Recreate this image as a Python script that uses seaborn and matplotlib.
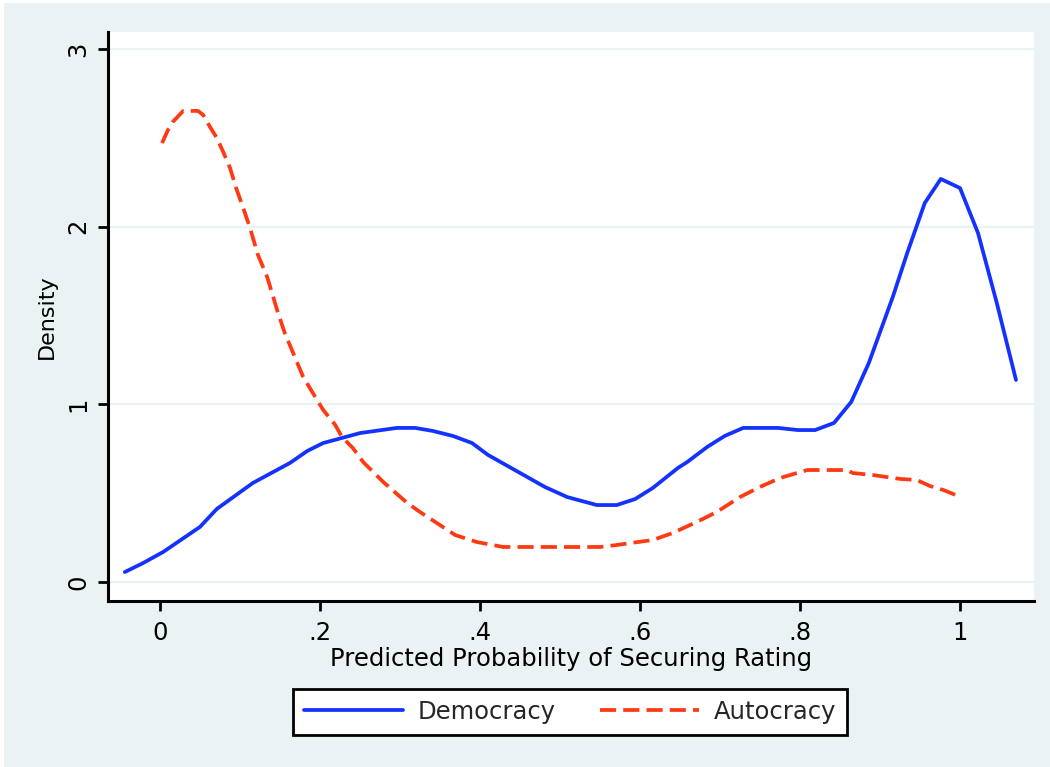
import numpy as np
import pandas as pd
import matplotlib
matplotlib.use("Agg")
import matplotlib.pyplot as plt
import seaborn as sns
from matplotlib.lines import Line2D
from matplotlib.patches import Rectangle

# ---- data ----
dem_x = [-0.044, -0.021, 0.004, 0.05, 0.071, 0.116, 0.1625, 0.184, 0.204, 0.25,
         0.296, 0.319, 0.341, 0.366, 0.39, 0.41, 0.481, 0.509, 0.546, 0.571,
         0.594, 0.616, 0.6475, 0.659, 0.684, 0.706, 0.729, 0.7725, 0.7975, 0.819,
         0.8425, 0.864, 0.886, 0.916, 0.934, 0.956, 0.976, 1.0, 1.0225, 1.046, 1.07]
dem_y = [0.056, 0.107, 0.169, 0.31, 0.411, 0.557, 0.67, 0.737, 0.782, 0.838,
         0.867, 0.867, 0.85, 0.822, 0.782, 0.715, 0.535, 0.478, 0.433, 0.433,
         0.467, 0.529, 0.642, 0.675, 0.76, 0.822, 0.867, 0.867, 0.855, 0.855,
         0.895, 1.013, 1.232, 1.604, 1.851, 2.133, 2.268, 2.217, 1.964, 1.57, 1.137]

aut_x = [0.0025, 0.01, 0.016, 0.029, 0.0475, 0.054, 0.0625, 0.071, 0.079, 0.0875,
         0.096, 0.104, 0.1125, 0.1225, 0.134, 0.1475, 0.156, 0.169, 0.179, 0.191,
         0.204, 0.219, 0.2275, 0.241, 0.254, 0.279, 0.309, 0.325, 0.346, 0.369,
         0.396, 0.429, 0.4875, 0.55, 0.571, 0.5875, 0.616, 0.641, 0.671, 0.696,
         0.725, 0.75, 0.775, 0.796, 0.809, 0.859, 0.866, 0.891, 0.925, 0.946,
         0.9625, 0.979, 1.001]
aut_y = [2.470, 2.544, 2.589, 2.651, 2.651, 2.628, 2.561, 2.499, 2.420, 2.330,
         2.206, 2.105, 1.992, 1.840, 1.716, 1.514, 1.401, 1.261, 1.154, 1.064,
         0.968, 0.884, 0.816, 0.754, 0.675, 0.563, 0.445, 0.394, 0.332, 0.264,
         0.225, 0.197, 0.197, 0.197, 0.208, 0.219, 0.236, 0.276, 0.338, 0.394,
         0.478, 0.535, 0.585, 0.613, 0.630, 0.630, 0.613, 0.602, 0.580, 0.574,
         0.540, 0.518, 0.478]

series_labels = ["Democracy", "Autocracy"]
xtick_vals = [0, 0.2, 0.4, 0.6, 0.8, 1.0]
xtick_labels = ["0", ".2", ".4", ".6", ".8", "1"]
ytick_vals = [0, 1, 2, 3]
ytick_labels = ["0", "1", "2", "3"]
x_title = "Predicted Probability of Securing Rating"
y_title = "Density"

# ---- style ----
BG = "#EAF2F3"
BLUE = "#1432FF"
RED = "#FF3A12"

sns.set_theme(style="white")
plt.rcParams["font.family"] = ["DejaVu Sans"]

W, H = 1050, 767
fig = plt.figure(figsize=(W / 100, H / 100), dpi=100)
fig.patch.set_facecolor("white")
fig.add_artist(Rectangle((4 / W, 0), 1 - 4 / W, 1 - 3 / H, transform=fig.transFigure,
                         facecolor=BG, edgecolor="none", zorder=-10))

ax = fig.add_axes([108 / W, 1 - 601 / H, (1034 - 108) / W, (601 - 32) / H])
ax.set_facecolor("white")

df_dem = pd.DataFrame({"x": dem_x, "y": dem_y})
df_aut = pd.DataFrame({"x": aut_x, "y": aut_y})

sns.lineplot(data=df_dem, x="x", y="y", sort=False, ax=ax, color=BLUE,
             linewidth=2.7, zorder=3)
sns.lineplot(data=df_aut, x="x", y="y", sort=False, ax=ax, color=RED,
             linewidth=2.7, linestyle=(0, (4.3, 1.9)), zorder=3)

ax.set_xlim(-0.065, 1.0925)
ax.set_ylim(-0.107, 3.095)

ax.set_xticks(xtick_vals)
ax.set_xticklabels(xtick_labels)
ax.set_yticks(ytick_vals)
ax.set_yticklabels(ytick_labels, rotation=90, va="center")

ax.grid(axis="y", color=BG, linewidth=1.6, zorder=0)
ax.grid(axis="x", visible=False)

for s in ["top", "right"]:
    ax.spines[s].set_visible(False)
for s in ["left", "bottom"]:
    ax.spines[s].set_visible(True)
    ax.spines[s].set_color("black")
    ax.spines[s].set_linewidth(2.2)

ax.tick_params(axis="both", which="major", direction="out", length=7.5, width=2.0,
               color="black", labelsize=17.5, labelcolor="black",
               left=True, bottom=True)
ax.tick_params(axis="x", pad=7)
ax.tick_params(axis="y", pad=5)

ax.set_xlabel(x_title, fontsize=17.5, labelpad=1, color="black")
ax.set_ylabel(y_title, fontsize=16, labelpad=7, color="black")

handles = [Line2D([], [], color=BLUE, linewidth=2.7),
           Line2D([], [], color=RED, linewidth=2.7, linestyle=(0, (4.3, 1.9)))]
leg = fig.legend(handles, series_labels, loc="center",
                 bbox_to_anchor=(570 / W, 1 - 712 / H), ncol=2, fontsize=17.5,
                 frameon=True, fancybox=False, shadow=False,
                 handlelength=4.1, handletextpad=0.6, columnspacing=1.8,
                 borderpad=0.45, borderaxespad=0)
fr = leg.get_frame()
fr.set_edgecolor("black")
fr.set_linewidth(2.0)
fr.set_facecolor("white")
fr.set_alpha(1)

fig.savefig("out.png", dpi=100, facecolor=fig.get_facecolor())
